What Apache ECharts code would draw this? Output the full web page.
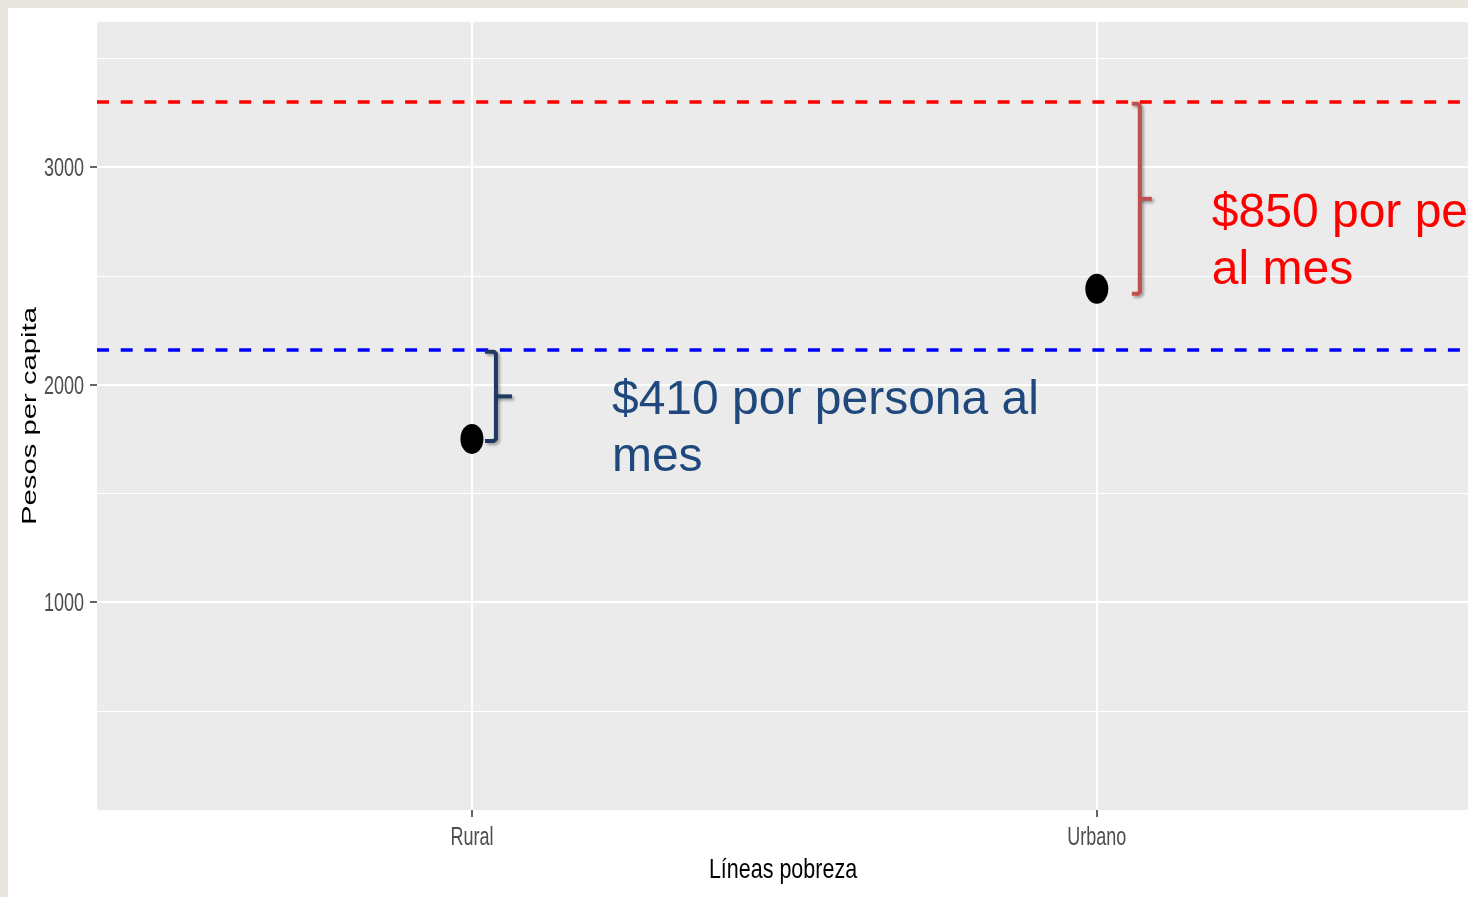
<!DOCTYPE html>
<html><head><meta charset="utf-8">
<script src="https://cdn.jsdelivr.net/npm/echarts@6/dist/echarts.min.js"></script>
<style>
html,body{margin:0;padding:0;background:#E8E6DE;overflow:hidden;}
#wrap{position:absolute;left:8px;top:8px;width:1460px;height:889px;background:#ffffff;}
#chart{width:1460px;height:889px;}
</style></head><body>
<div id="wrap"><div id="chart"></div></div>
<script>
// ---- data ----
const categories = ['Rural', 'Urbano'];
const values = [1750, 2440];
const urbanLine = 3300;   // red dashed line
const ruralLine = 2160;   // blue dashed line
const yTicks = [1000, 2000, 3000];
const yMinorGrid = [500, 1500, 2500, 3500];
const annotLabels = ['$410 por persona al\nmes', '$850 por persona\nal mes'];
const annotTops = [ruralLine, urbanLine];
const yMin = 44, yMax = 3667, xMin = 0.4, xMax = 2.594;

// ---- styles ----
const annotStyles = [
  {bx: 24, hook: 11, tick: 16, padB: 2, color: '#1F3864', textDx: 140, textDy: -24, textColor: '#1F497D'},
  {bx: 43, hook: 8, tick: 12, padB: 5, color: '#C0504D', textDx: 115, textDy: -14, textColor: '#FF0000'}
];
const baseFont = '"Liberation Sans", Arial, sans-serif';

const xPos = categories.map((c, i) => i + 1);
const points = values.map((v, i) => [xPos[i], v]);
const annotData = annotTops.map((t, i) => [xPos[i], t, values[i], i]);
// tick label items: [x, y, kind(0 = x label, 1 = y label), index]
const labelData = xPos.map((x, i) => [x, yMin, 0, i]).concat(yTicks.map((v, i) => [xMin, v, 1, i]));

const gridLines = [];
yTicks.forEach(v => gridLines.push({yAxis: v, lineStyle: {width: 2, color: '#FFFFFF', type: 'solid'}}));
yMinorGrid.forEach(v => gridLines.push({yAxis: v, lineStyle: {width: 1.2, color: '#FFFFFF', type: 'solid'}}));
xPos.forEach(v => gridLines.push({xAxis: v, lineStyle: {width: 2, color: '#FFFFFF', type: 'solid'}}));

const chart = echarts.init(document.getElementById('chart'), null, {renderer: 'canvas'});
chart.setOption({
  animation: false,
  backgroundColor: '#FFFFFF',
  grid: {left: 89, top: 14, right: 0, bottom: 87, show: true, backgroundColor: '#EBEBEB', borderWidth: 0},
  xAxis: {
    type: 'value', min: xMin, max: xMax,
    axisLine: {show: false},
    axisTick: {show: true, length: 7, lineStyle: {color: '#333333', width: 1.5}, customValues: xPos},
    axisLabel: {show: false},
    splitLine: {show: false}
  },
  yAxis: {
    type: 'value', min: yMin, max: yMax,
    axisLine: {show: false},
    axisTick: {show: true, length: 7, lineStyle: {color: '#333333', width: 1.5}, customValues: yTicks},
    axisLabel: {show: false},
    splitLine: {show: false}
  },
  graphic: [
    {
      type: 'text', x: 23, y: 408, rotation: Math.PI / 2, scaleX: 1.5, scaleY: 1,
      style: {text: 'Pesos per capita', font: '19.5px ' + baseFont, fill: '#000000',
        align: 'center', verticalAlign: 'middle'}
    },
    {
      type: 'text', x: 775, y: 862, scaleX: 1, scaleY: 1.3,
      style: {text: 'Líneas pobreza', font: '21.5px ' + baseFont, fill: '#000000',
        align: 'center', verticalAlign: 'middle'}
    }
  ],
  series: [
    {
      type: 'scatter', data: [], z: 1, silent: true,
      markLine: {z: 1, silent: true, symbol: ['none', 'none'], label: {show: false}, animation: false,
        lineStyle: {type: 'solid'}, data: gridLines}
    },
    {
      type: 'scatter', data: points, z: 4, symbol: 'circle', symbolSize: [23, 30],
      itemStyle: {color: '#000000', opacity: 1},
      markLine: {
        z: 3, silent: true, symbol: ['none', 'none'], label: {show: false}, animation: false,
        lineStyle: {type: [12, 11.7], width: 3.5},
        data: [
          {yAxis: urbanLine, lineStyle: {color: '#FF0000', type: [12, 11.7], width: 3.5}},
          {yAxis: ruralLine, lineStyle: {color: '#0000FF', type: [12, 11.7], width: 3.5}}
        ]
      }
    },
    {
      type: 'custom', z: 5, data: annotData, silent: true,
      renderItem: function (params, api) {
        const i = api.value(3);
        const s = annotStyles[i];
        const pt = api.coord([api.value(0), api.value(1)]);
        const pb = api.coord([api.value(0), api.value(2)]);
        const bx = pt[0] + s.bx;
        const yt = pt[1] + 2;
        const yb = pb[1] + s.padB;
        const ym = (yt + yb) / 2;
        const ls = {stroke: s.color, lineWidth: 4, fill: 'none', lineJoin: 'round', lineCap: 'butt',
          shadowBlur: 3, shadowOffsetX: 2, shadowOffsetY: 2, shadowColor: 'rgba(0,0,0,0.35)'};
        return {
          type: 'group',
          children: [
            {type: 'polyline', shape: {points: [[bx - s.hook, yt], [bx - 2, yt], [bx, yt + 2], [bx, yb - 2], [bx - 2, yb], [bx - s.hook, yb]]}, style: ls},
            {type: 'line', shape: {x1: bx, y1: ym, x2: bx + s.tick, y2: ym}, style: ls},
            {type: 'text', x: pt[0] + s.textDx, y: ym + s.textDy,
              style: {text: annotLabels[i], fill: s.textColor, font: '48px ' + baseFont,
                lineHeight: 57, align: 'left', verticalAlign: 'top'}}
          ]
        };
      }
    },
    {
      type: 'custom', z: 5, data: labelData, silent: true, clip: false,
      renderItem: function (params, api) {
        const kind = api.value(2);
        const idx = api.value(3);
        const p = api.coord([api.value(0), api.value(1)]);
        const isX = kind === 0;
        return {
          type: 'text',
          x: isX ? p[0] : p[0] - 13,
          y: isX ? p[1] + 28 : p[1] + 2,
          scaleY: 1.4,
          style: {
            text: isX ? categories[idx] : String(yTicks[idx]),
            font: '18px ' + baseFont, fill: '#4D4D4D',
            align: isX ? 'center' : 'right', verticalAlign: 'middle'
          }
        };
      }
    }
  ]
});
</script>
</body></html>
